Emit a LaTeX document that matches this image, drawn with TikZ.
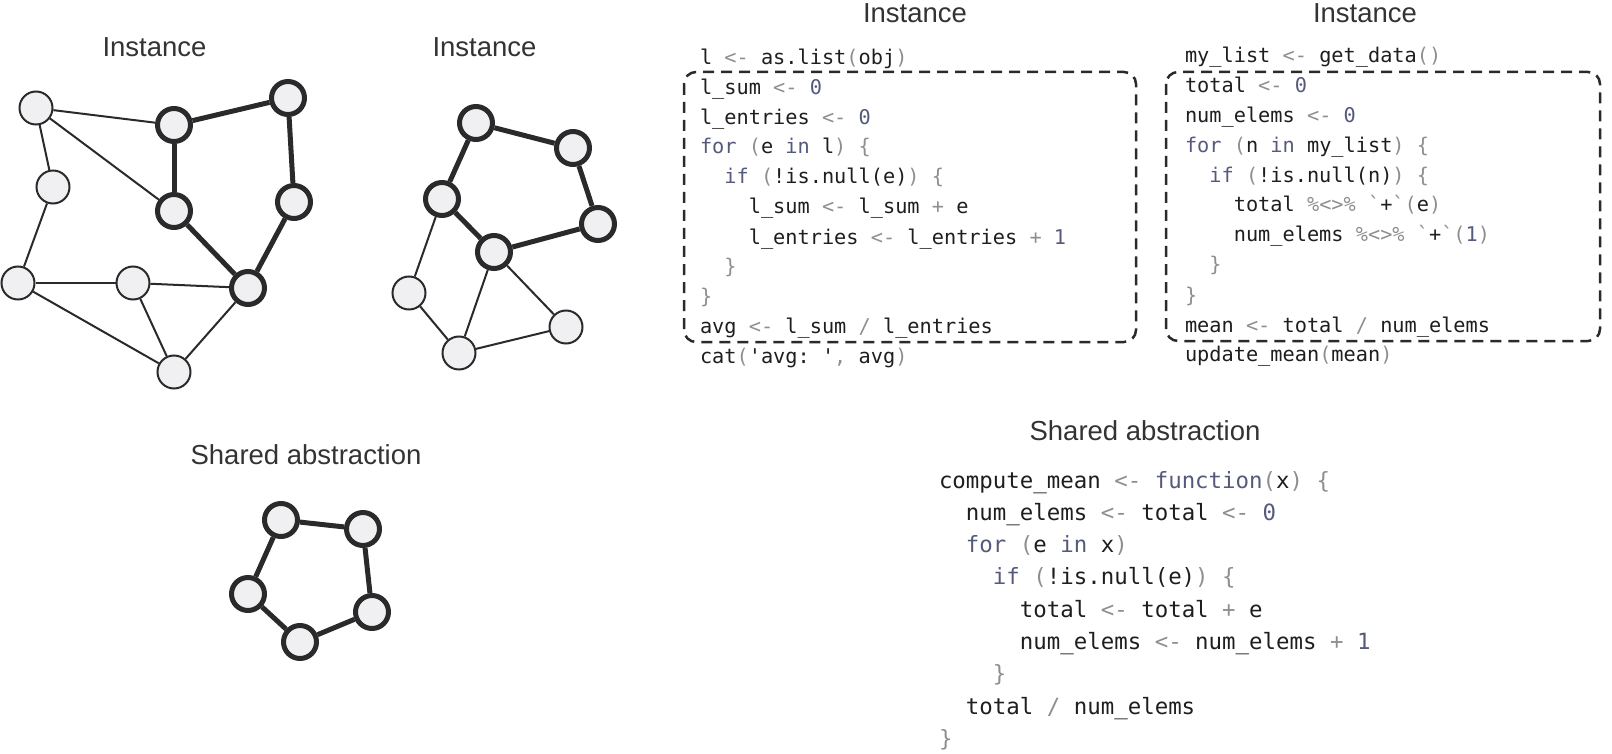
\documentclass[tikz,border=0pt]{standalone}
\usepackage{fontspec}
\setsansfont{Liberation Sans}
\setmonofont{DejaVu Sans Mono}
\definecolor{kw}{HTML}{555A7C}
\definecolor{pg}{HTML}{8E8E8E}
\definecolor{fg}{HTML}{1E1E1E}
\definecolor{ec}{HTML}{2A2A2A}
\definecolor{nf}{HTML}{F0F0F3}
\definecolor{tc}{HTML}{333333}
\newcommand\K[1]{\textcolor{kw}{#1}}
\newcommand\G[1]{\textcolor{pg}{#1}}
\newcommand\I[1]{\hphantom{#1}}
\newcommand\bq{\symbol{96}}
\newcommand\sq{\symbol{39}}
\tikzset{
  codeA/.style={anchor=base west, inner sep=0pt, outer sep=0pt, text=fg, font=\fontsize{20.27}{24}\selectfont\ttfamily},
  codeB/.style={anchor=base west, inner sep=0pt, outer sep=0pt, text=fg, font=\fontsize{22.4}{26}\selectfont\ttfamily},
  ttl/.style={anchor=base, inner sep=0pt, text=tc, font=\fontsize{27.5}{30}\selectfont\sffamily},
  vtx/.style={circle, draw=ec, line width=2pt, fill=nf, minimum size=33pt, inner sep=0pt},
  vtxb/.style={vtx, line width=5pt},
  ethin/.style={draw=ec, line width=2pt},
  ethick/.style={draw=ec, line width=5pt},
  dbox/.style={draw=ec, line width=2.5pt, dash pattern=on 11pt off 7pt, rounded corners=12pt}
}
\begin{document}
\begin{tikzpicture}[x=1pt,y=-1pt]
\useasboundingbox (0,0) rectangle (1612,754);
% titles
\node[ttl] (t1) at (154.5,57) {Instance};
\node[ttl] (t2) at (484.5,57) {Instance};
\node[ttl] (t3) at (915,23) {Instance};
\node[ttl] (t4) at (1365,23) {Instance};
\node[ttl] (t5) at (306,464) {Shared abstraction};
\node[ttl] (t6) at (1145,440) {Shared abstraction};

% graph 1
\node[vtx] (a) at (36,108) {};
\node[vtx] (b) at (53,187) {};
\node[vtx] (c) at (18,283) {};
\node[vtx] (d) at (133,283) {};
\node[vtx] (e) at (174,372) {};
\node[vtxb] (f) at (248,288) {};
\node[vtxb] (g) at (174,211) {};
\node[vtxb] (h) at (174,125) {};
\node[vtxb] (i) at (288,98) {};
\node[vtxb] (j) at (294,202) {};
\draw[ethin] (a) -- (b);
\draw[ethin] (a) -- (h);
\draw[ethin] (a) -- (g);
\draw[ethin] (b) -- (c);
\draw[ethin] (c) -- (d);
\draw[ethin] (c) -- (e);
\draw[ethin] (d) -- (f);
\draw[ethin] (d) -- (e);
\draw[ethin] (e) -- (f);
\draw[ethick] (h) -- (i);
\draw[ethick] (h) -- (g);
\draw[ethick] (g) -- (f);
\draw[ethick] (i) -- (j);
\draw[ethick] (j) -- (f);

% graph 2
\node[vtxb] (p1) at (476,123) {};
\node[vtxb] (p2) at (573,148) {};
\node[vtxb] (p3) at (442,199) {};
\node[vtxb] (p4) at (598,224) {};
\node[vtxb] (p5) at (494,252) {};
\node[vtx] (q1) at (409,293) {};
\node[vtx] (q2) at (459,353) {};
\node[vtx] (q3) at (566,327) {};
\draw[ethick] (p1) -- (p2);
\draw[ethick] (p2) -- (p4);
\draw[ethick] (p4) -- (p5);
\draw[ethick] (p5) -- (p3);
\draw[ethick] (p3) -- (p1);
\draw[ethin] (p3) -- (q1);
\draw[ethin] (q1) -- (q2);
\draw[ethin] (p5) -- (q2);
\draw[ethin] (p5) -- (q3);
\draw[ethin] (q2) -- (q3);

% shared graph
\node[vtxb] (s1) at (281,520) {};
\node[vtxb] (s2) at (363,529) {};
\node[vtxb] (s3) at (248,594) {};
\node[vtxb] (s4) at (372,612) {};
\node[vtxb] (s5) at (300,642) {};
\draw[ethick] (s1) -- (s2);
\draw[ethick] (s2) -- (s4);
\draw[ethick] (s4) -- (s5);
\draw[ethick] (s5) -- (s3);
\draw[ethick] (s3) -- (s1);

% dashed boxes
\draw[dbox] (684,72) rectangle (1136,342);
\draw[dbox] (1166,72) rectangle (1600,341);

% code box 1
\node[codeA] (a1) at (700,65) {l \G{<-} as.list\G{(}obj\G{)}};
\node[codeA] (a2) at (700,95) {l\_sum \G{<-} \K{0}};
\node[codeA] (a3) at (700,125) {l\_entries \G{<-} \K{0}};
\node[codeA] (a4) at (700,154) {\K{for} \G{(}e \K{in} l\G{)} \G{\{}};
\node[codeA] (a5) at (700,184) {\I{xx}\K{if} \G{(}!is.null(e)\G{)} \G{\{}};
\node[codeA] (a6) at (700,214) {\I{xxxx}l\_sum \G{<-} l\_sum \G{+} e};
\node[codeA] (a7) at (700,244) {\I{xxxx}l\_entries \G{<-} l\_entries \G{+} \K{1}};
\node[codeA] (a8) at (700,273) {\I{xx}\G{\}}};
\node[codeA] (a9) at (700,303) {\G{\}}};
\node[codeA] (a10) at (700,333) {avg \G{<-} l\_sum \G{/} l\_entries};
\node[codeA] (a11) at (700,363) {cat\G{(}\sq avg: \sq\G{,} avg\G{)}};

% code box 2
\node[codeA] (b1) at (1185,63) {my\_list \G{<-} get\_data\G{()}};
\node[codeA] (b2) at (1185,93) {total \G{<-} \K{0}};
\node[codeA] (b3) at (1185,123) {num\_elems \G{<-} \K{0}};
\node[codeA] (b4) at (1185,153) {\K{for} \G{(}n \K{in} my\_list\G{)} \G{\{}};
\node[codeA] (b5) at (1185,183) {\I{xx}\K{if} \G{(}!is.null(n)\G{)} \G{\{}};
\node[codeA] (b6) at (1185,212) {\I{xxxx}total \G{\%<>\%} \G{\bq}+\G{\bq}\G{(}e\G{)}};
\node[codeA] (b7) at (1185,242) {\I{xxxx}num\_elems \G{\%<>\%} \G{\bq}+\G{\bq}\G{(}\K{1}\G{)}};
\node[codeA] (b8) at (1185,272) {\I{xx}\G{\}}};
\node[codeA] (b9) at (1185,302) {\G{\}}};
\node[codeA] (b10) at (1185,332) {mean \G{<-} total \G{/} num\_elems};
\node[codeA] (b11) at (1185,361) {update\_mean\G{(}mean\G{)}};

% shared code
\node[codeB] (c1) at (939,488) {compute\_mean \G{<-} \K{function}\G{(}x\G{)} \G{\{}};
\node[codeB] (c2) at (939,520.3) {\I{xx}num\_elems \G{<-} total \G{<-} \K{0}};
\node[codeB] (c3) at (939,552.6) {\I{xx}\K{for} \G{(}e \K{in} x\G{)}};
\node[codeB] (c4) at (939,584.9) {\I{xxxx}\K{if} \G{(}!is.null(e)\G{)} \G{\{}};
\node[codeB] (c5) at (939,617.2) {\I{xxxxxx}total \G{<-} total \G{+} e};
\node[codeB] (c6) at (939,649.5) {\I{xxxxxx}num\_elems \G{<-} num\_elems \G{+} \K{1}};
\node[codeB] (c7) at (939,681.8) {\I{xxxx}\G{\}}};
\node[codeB] (c8) at (939,714.1) {\I{xx}total \G{/} num\_elems};
\node[codeB] (c9) at (939,746.4) {\G{\}}};
\end{tikzpicture}
\end{document}
